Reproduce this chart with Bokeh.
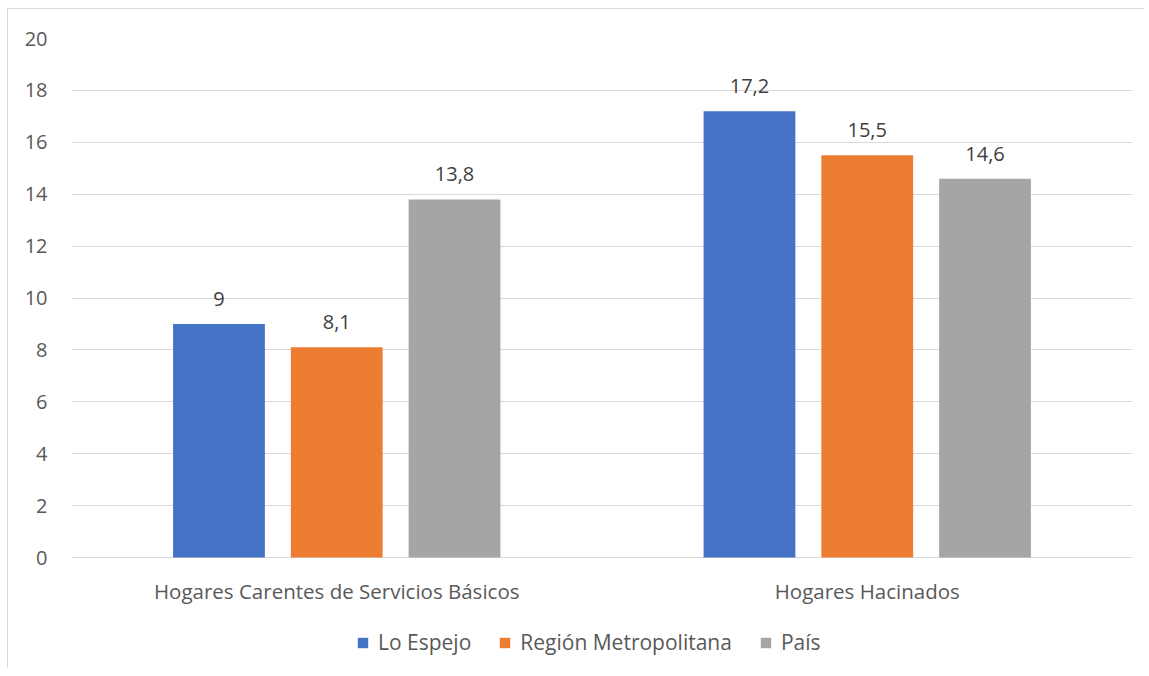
from bokeh.plotting import figure
from bokeh.models import FactorRange, ColumnDataSource, Legend, LegendItem, FixedTicker, LabelSet, Range1d
from bokeh.transform import dodge
from bokeh.core.properties import value
from bokeh.embed import file_html
from bokeh.resources import INLINE

categories = ["Hogares Carentes de Servicios Básicos", "Hogares Hacinados"]
series_names = ["Lo Espejo", "Región Metropolitana", "País"]
lo_espejo = [9.0, 17.2]
region_metropolitana = [8.1, 15.5]
pais = [13.8, 14.6]
y_ticks = [0, 2, 4, 6, 8, 10, 12, 14, 16, 18, 20]

colors = ["#4472C4", "#ED7D31", "#A5A5A5"]
offsets = [-0.222, 0.0, 0.222]
FONT = "Open Sans"
TXT = "#595959"

# plot geometry (pixels): value area 519 px tall, extra 111 px below zero for labels + legend
AREA_H = 519
EXTRA_H = 111
Y_MAX = 20
y_start = -Y_MAX * EXTRA_H / AREA_H


def fmt(v):
    s = ("%.1f" % v).rstrip("0").rstrip(".")
    return s.replace(".", ",")


p = figure(x_range=FactorRange(*categories, range_padding=0), y_range=Range1d(y_start, Y_MAX),
           frame_width=1061, frame_height=AREA_H + EXTRA_H,
           min_border_left=63, min_border_right=12, min_border_top=29, min_border_bottom=0,
           output_backend="svg", toolbar_location=None,
           styles={"margin-left": "7px", "margin-top": "8px",
                   "border-left": "1px solid #d9d9d9", "border-top": "1px solid #d9d9d9"})

p.outline_line_color = None
p.xgrid.grid_line_color = None
p.ygrid.grid_line_color = "#d9d9d9"
p.ygrid.grid_line_width = 1
p.yaxis.ticker = FixedTicker(ticks=y_ticks)
p.yaxis.axis_line_color = None
p.yaxis.major_tick_line_color = None
p.yaxis.minor_tick_line_color = None
p.yaxis.major_label_standoff = 18
p.yaxis.major_label_text_font = FONT
p.yaxis.major_label_text_font_size = "20px"
p.yaxis.major_label_text_color = TXT
p.xaxis.visible = False

cat_src = ColumnDataSource(dict(cat=categories, y0=[0] * len(categories)))
p.add_layout(LabelSet(x="cat", y="y0", text="cat", source=cat_src, text_align="center",
                      text_baseline="middle", y_offset=-33, text_font=value(FONT),
                      text_font_size=value("20.5px"), text_color=TXT))

items = []
for name, vals, col, off in zip(series_names, [lo_espejo, region_metropolitana, pais], colors, offsets):
    src = ColumnDataSource(dict(cat=categories, val=vals, lab=[fmt(v) for v in vals]))
    r = p.vbar(x=dodge("cat", off, range=p.x_range), top="val", width=0.173, source=src,
               fill_color=col, line_color=None)
    items.append(LegendItem(label=name, renderers=[r]))
    lbl = LabelSet(x=dodge("cat", off, range=p.x_range), y="val", text="lab", source=src,
                   text_align="center", text_baseline="middle", y_offset=25,
                   text_font=value(FONT), text_font_size=value("20px"), text_color="#404040")
    p.add_layout(lbl)

legend = Legend(items=items, orientation="horizontal", location=(285, 12),
                label_text_font=FONT, label_text_font_size="21px", label_text_color=TXT,
                glyph_width=13, glyph_height=13, spacing=27, label_standoff=9,
                border_line_color=None, background_fill_alpha=0, margin=0, padding=4)
p.add_layout(legend)

open("out.html", "w").write(file_html(p, INLINE))
